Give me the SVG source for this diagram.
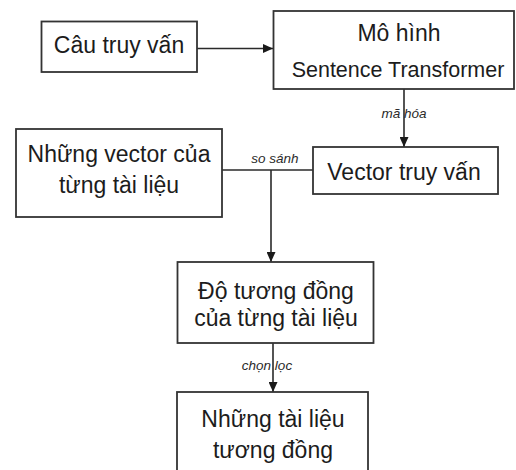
<svg xmlns="http://www.w3.org/2000/svg" width="516" height="470" viewBox="0 0 516 470">
  <style>
    .box { fill: #ffffff; stroke: #333333; stroke-width: 1.8; }
    .lbl { font-family: "Liberation Sans", Arial, sans-serif; font-size: 23px; fill: #1c1c1c; text-anchor: middle; }
    .narrow { font-size: 21.5px; }
    .edge { fill: none; stroke: #2a2a2a; stroke-width: 1.6; }
    .tag { font-family: "Liberation Sans", Arial, sans-serif; font-size: 13.5px; font-style: italic; fill: #2a2a2a; text-anchor: middle; }
  </style>
  <defs>
    <marker id="arrow" viewBox="0 0 10 10" refX="10" refY="5" markerWidth="10" markerHeight="9" markerUnits="userSpaceOnUse" orient="auto" preserveAspectRatio="none">
      <path d="M0,0 L10,5 L0,10 Z" fill="#1a1a1a"/>
    </marker>
  </defs>
  <rect width="516" height="470" fill="#ffffff"/>

  <!-- edge labels sit under the lines -->
  <g id="edge-labels">
    <text class="tag" x="404" y="118">mã hóa</text>
    <text class="tag" x="275" y="163">so sánh</text>
    <text class="tag" x="267" y="370">chọn lọc</text>
  </g>

  <g id="connectors">
    <line class="edge" x1="197" y1="48.5" x2="273" y2="48.5" marker-end="url(#arrow)"/>
    <line class="edge" x1="404" y1="89" x2="404" y2="147" marker-end="url(#arrow)"/>
    <line class="edge" x1="222" y1="170" x2="313" y2="170"/>
    <line class="edge" x1="271" y1="170" x2="271" y2="262" marker-end="url(#arrow)"/>
    <line class="edge" x1="273" y1="343" x2="273" y2="392" marker-end="url(#arrow)"/>
  </g>

  <g id="query">
    <rect class="box" x="41.5" y="21.5" width="155.5" height="50.5"/>
    <text class="lbl" x="119" y="53">Câu truy vấn</text>
  </g>

  <g id="model">
    <rect class="box" x="273.5" y="11" width="240.5" height="78"/>
    <text class="lbl" x="399" y="41">Mô hình</text>
    <text class="lbl narrow" x="398" y="77">Sentence Transformer</text>
  </g>

  <g id="doc-vectors">
    <rect class="box" x="16" y="129" width="206" height="88"/>
    <text class="lbl" x="119" y="162">Những vector của</text>
    <text class="lbl" x="119" y="193">từng tài liệu</text>
  </g>

  <g id="query-vector">
    <rect class="box" x="313" y="147" width="185" height="47"/>
    <text class="lbl" x="404" y="180">Vector truy vấn</text>
  </g>

  <g id="similarity">
    <rect class="box" x="177.5" y="262" width="196" height="81"/>
    <text class="lbl" x="276" y="299">Độ tương đồng</text>
    <text class="lbl" x="276" y="326">của từng tài liệu</text>
  </g>

  <g id="similar-docs">
    <rect class="box" x="177" y="392" width="191" height="90"/>
    <text class="lbl" x="273" y="427">Những tài liệu</text>
    <text class="lbl" x="273" y="458">tương đồng</text>
  </g>
</svg>
